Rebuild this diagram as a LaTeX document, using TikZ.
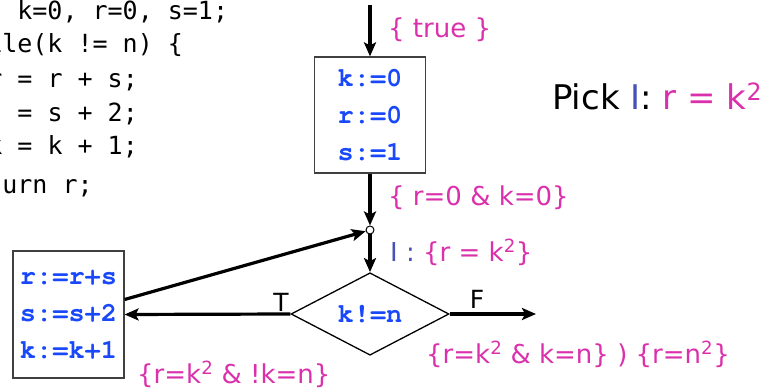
\documentclass[tikz,border=0pt]{standalone}
\usepackage{fontspec}
\setmainfont{DejaVu Sans}
\newfontfamily\srcfont{DejaVu Sans Mono}
\newfontfamily\stmtfont{TeX Gyre Cursor}
\usetikzlibrary{arrows.meta,shapes.geometric}

\definecolor{assn}{RGB}{218,48,172}
\definecolor{invc}{RGB}{70,82,184}
\definecolor{stmtblue}{RGB}{24,72,250}

\tikzset{
  flow/.style={line width=3.2pt, -{Stealth[length=14pt,width=12pt,inset=3pt]}},
  stmtbox/.style={draw=black!75, line width=1.2pt, text=stmtblue, align=left,
    font=\stmtfont\bfseries\fontsize{27}{37}\selectfont, minimum width=111pt},
  cond/.style={diamond, draw, line width=1.3pt, inner sep=0, text=stmtblue,
    font=\stmtfont\bfseries\fontsize{27}{30}\selectfont,
    minimum width=158pt, minimum height=59pt},
  assert/.style={anchor=west, inner sep=0, text=assn, font=\fontsize{26}{30}\selectfont},
  src/.style={anchor=base west, inner sep=0, font=\srcfont\fontsize{25}{30}\selectfont},
  branch/.style={inner sep=0, font=\fontsize{25}{30}\selectfont},
}

\begin{document}
\begin{tikzpicture}[x=1pt, y=-1pt]
  \useasboundingbox (0,0) rectangle (766,390);
  \clip (0,0) rectangle (766,390);

  % source program (cut at the left edge)
  \node[src] (l1) at (-43,20)  {int k=0, r=0, s=1;};
  \node[src] (l2) at (-43,53)  {while(k != n) \{};
  \node[src] (l3) at (-43,88)  {\ \ r = r + s;};
  \node[src] (l4) at (-43,122) {\ \ s = s + 2;};
  \node[src] (l5) at (-43,155) {\ \ k = k + 1;};
  \node[src] (l6) at (-43,194) {return r;};

  % flow graph
  \coordinate (entry) at (370,5);
  \node[stmtbox, minimum height=116pt] (init) at (370,115)
    {k:=0\\r:=0\\s:=1};
  \node[circle, draw, fill=white, line width=1pt, minimum size=8pt, inner sep=0]
    (join) at (370,230) {};
  \node[cond] (test) at (370,314) {k!=n};
  \node[stmtbox, minimum height=127pt] (body) at (68.5,314.5)
    {r:=r+s\\s:=s+2\\k:=k+1};
  \coordinate (exit) at (536,314);

  \draw[flow] (entry) -- (init.north);
  \draw[flow] (init.south) -- (join);
  \draw[flow] (join) -- (test.north);
  \draw[flow] (test.west) -- (body.east);
  \draw[flow] ([yshift=15pt]body.east) -- (join);
  \draw[flow] (test.east) -- (exit);

  \node[branch] (t) at (281,302) {T};
  \node[branch] (f) at (477,299) {F};

  % assertions
  \node[assert] (pre) at (388,30) {\{ true \}};
  \node[assert] (post) at (388,198) {\{ r=0 \& k=0\}};
  \node[assert] (invl) at (390,252) {\textcolor{invc}{I :} \{r = k\textsuperscript{2}\}};
  \node[assert] (loop) at (137,374) {\{r=k\textsuperscript{2} \& !k=n\}};
  \node[assert] (done) at (426,354)
    {\{r=k\textsuperscript{2} \& k=n\} ) \{r=n\textsuperscript{2}\}};

  \node[anchor=west, inner sep=0, font=\fontsize{34}{40}\selectfont] (pick)
    at (552,96) {Pick \textcolor{invc}{I}: \textcolor{assn}{r = k\textsuperscript{2}}};
\end{tikzpicture}
\end{document}
